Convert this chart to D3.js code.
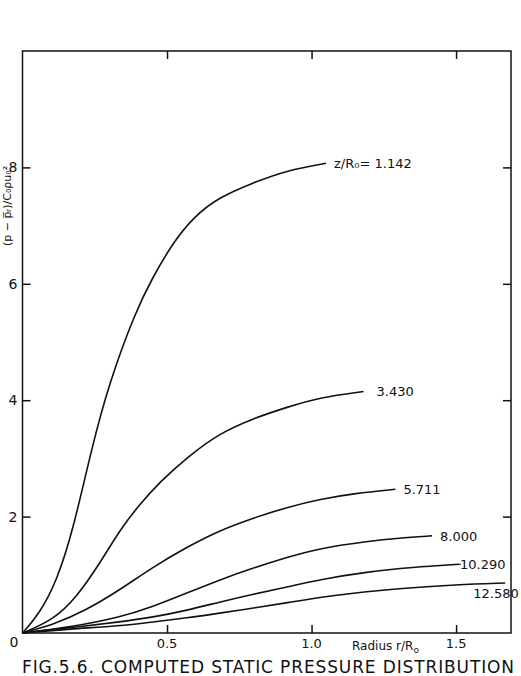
<!DOCTYPE html>
<html>
<head>
<meta charset="utf-8">
<script src="https://cdn.jsdelivr.net/npm/d3@7"></script>
<style>
  body { margin: 0; background: #fff; }
  svg text { font-family: "DejaVu Sans", "Noto Sans", sans-serif; fill: #111; }
</style>
</head>
<body>
<div id="chart"></div>
<script>
// z/R0 values of each curve
var seriesNames = ["z/R\u2080= 1.142", "3.430", "5.711", "8.000", "10.290", "12.580"];

// radius r/R0 and static pressure values
var r1142 = [0, 0.06, 0.12, 0.175, 0.24, 0.30, 0.39, 0.45, 0.52, 0.59, 0.68, 0.80, 0.915, 1.05];
var p1142 = [0, 0.34, 0.91, 1.77, 3.19, 4.30, 5.51, 6.11, 6.70, 7.14, 7.49, 7.74, 7.95, 8.07];

var r3430 = [0, 0.106, 0.188, 0.268, 0.337, 0.40, 0.476, 0.57, 0.68, 0.80, 0.915, 1.03, 1.18];
var p3430 = [0, 0.22, 0.62, 1.20, 1.77, 2.18, 2.60, 3.02, 3.43, 3.69, 3.88, 4.05, 4.15];

var r5711 = [0, 0.106, 0.22, 0.337, 0.45, 0.57, 0.68, 0.80, 0.915, 1.03, 1.15, 1.29];
var p5711 = [0, 0.14, 0.39, 0.74, 1.13, 1.48, 1.76, 1.98, 2.16, 2.30, 2.40, 2.47];

var r8000 = [0, 0.164, 0.337, 0.45, 0.57, 0.68, 0.80, 0.915, 1.03, 1.20, 1.30, 1.417];
var p8000 = [0, 0.10, 0.27, 0.45, 0.69, 0.91, 1.12, 1.30, 1.46, 1.58, 1.63, 1.67];

var r10290 = [0, 0.164, 0.337, 0.45, 0.57, 0.68, 0.80, 0.915, 1.03, 1.19, 1.35, 1.51];
var p10290 = [0, 0.09, 0.19, 0.27, 0.39, 0.53, 0.67, 0.79, 0.92, 1.05, 1.13, 1.18];

var r12580 = [0, 0.164, 0.337, 0.45, 0.57, 0.68, 0.80, 0.915, 1.075, 1.31, 1.50, 1.67];
var p12580 = [0, 0.07, 0.12, 0.19, 0.26, 0.34, 0.43, 0.52, 0.65, 0.77, 0.83, 0.86];

var xTicks = [0.5, 1.0, 1.5];
var xTickLabels = ["0.5", "1.0", "1.5"];
var yTicks = [2, 4, 6, 8];

var allR = [r1142, r3430, r5711, r8000, r10290, r12580];
var allP = [p1142, p3430, p5711, p8000, p10290, p12580];

var width = 521, height = 676;
var margin = { top: 51, right: 10, bottom: 43, left: 22.5 };

var svg = d3.select("#chart").append("svg")
    .attr("width", width)
    .attr("height", height);

var xScale = d3.scaleLinear()
    .domain([0, 1.69])
    .range([margin.left, width - margin.right]);

var yScale = d3.scaleLinear()
    .domain([0, 10])
    .range([height - margin.bottom, margin.top]);

// frame
svg.append("rect")
    .attr("x", xScale(0))
    .attr("y", yScale(10))
    .attr("width", xScale(1.69) - xScale(0))
    .attr("height", yScale(0) - yScale(10))
    .attr("fill", "none")
    .attr("stroke", "#111")
    .attr("stroke-width", 1.5);

// axes: ticks point inward on all four sides
var bottomAxis = d3.axisTop(xScale).tickValues(xTicks).tickSize(8).tickFormat("");
var topAxis = d3.axisBottom(xScale).tickValues(xTicks).tickSize(8).tickFormat("");
var leftAxis = d3.axisRight(yScale).tickValues(yTicks).tickSize(8).tickFormat("");
var rightAxis = d3.axisLeft(yScale).tickValues(yTicks).tickSize(8).tickFormat("");

[[bottomAxis, "translate(0," + yScale(0) + ")"],
 [topAxis, "translate(0," + yScale(10) + ")"],
 [leftAxis, "translate(" + xScale(0) + ",0)"],
 [rightAxis, "translate(" + xScale(1.69) + ",0)"]].forEach(function(a) {
    var g = svg.append("g").attr("transform", a[1]).call(a[0]);
    g.select(".domain").remove();
    g.selectAll("line").attr("stroke", "#111").attr("stroke-width", 1.5);
});

// tick labels
svg.selectAll(".ylab").data(yTicks).enter()
  .append("text")
    .attr("class", "ylab")
    .attr("x", xScale(0) - 5)
    .attr("y", function(d) { return yScale(d) + 5; })
    .attr("text-anchor", "end")
    .style("font-size", "14px")
    .text(function(d) { return d; });

svg.append("text")
    .attr("x", xScale(0) - 4)
    .attr("y", yScale(0) + 14)
    .attr("text-anchor", "end")
    .style("font-size", "14px")
    .text("0");

svg.selectAll(".xlab").data(xTicks).enter()
  .append("text")
    .attr("class", "xlab")
    .attr("x", function(d) { return xScale(d); })
    .attr("y", yScale(0) + 15)
    .attr("text-anchor", "middle")
    .style("font-size", "13px")
    .text(function(d, i) { return xTickLabels[i]; });

// x axis title
var xt = svg.append("text")
    .attr("x", 352)
    .attr("y", yScale(0) + 17)
    .style("font-size", "12px");
xt.append("tspan").text("Radius   r/R");
xt.append("tspan").attr("dy", 3).style("font-size", "9px").text("o");

// y axis title
svg.append("text")
    .attr("transform", "translate(11,206) rotate(-90)")
    .attr("text-anchor", "middle")
    .style("font-size", "11px")
    .text("(p \u2212 p\u0305\u1d63)/C\u2080\u03c1u\u2080\u00b2");

// curves
var line = d3.line()
    .x(function(d) { return xScale(d[0]); })
    .y(function(d) { return yScale(d[1]); })
    .curve(d3.curveBasis);

var curves = allR.map(function(rs, i) {
    return rs.map(function(r, j) { return [r, allP[i][j]]; });
});

svg.selectAll(".curve").data(curves).enter()
  .append("path")
    .attr("class", "curve")
    .attr("d", line)
    .attr("fill", "none")
    .attr("stroke", "#111")
    .attr("stroke-width", 1.6);

// curve labels, placed after the end of each curve
var labelDx = [8, 13, 8, 8, 1, -32];
var labelDy = [5, 5, 5, 5, 5, 15];
svg.selectAll(".clab").data(curves).enter()
  .append("text")
    .attr("class", "clab")
    .attr("x", function(d, i) { return xScale(d[d.length - 1][0]) + labelDx[i]; })
    .attr("y", function(d, i) { return yScale(d[d.length - 1][1]) + labelDy[i]; })
    .style("font-size", "13px")
    .text(function(d, i) { return seriesNames[i]; });

// short dash joining 10.290 to its label
var c5 = curves[4][curves[4].length - 1];
svg.append("line")
    .attr("x1", xScale(c5[0]))
    .attr("x2", xScale(c5[0]) + 2)
    .attr("y1", yScale(c5[1]))
    .attr("y2", yScale(c5[1]))
    .attr("stroke", "#111");

// figure caption
svg.append("text")
    .attr("x", 22)
    .attr("y", 673)
    .attr("textLength", 492)
    .attr("lengthAdjust", "spacing")
    .style("font-size", "17px")
    .text("FIG.5.6. COMPUTED   STATIC   PRESSURE   DISTRIBUTION");
</script>
</body>
</html>
